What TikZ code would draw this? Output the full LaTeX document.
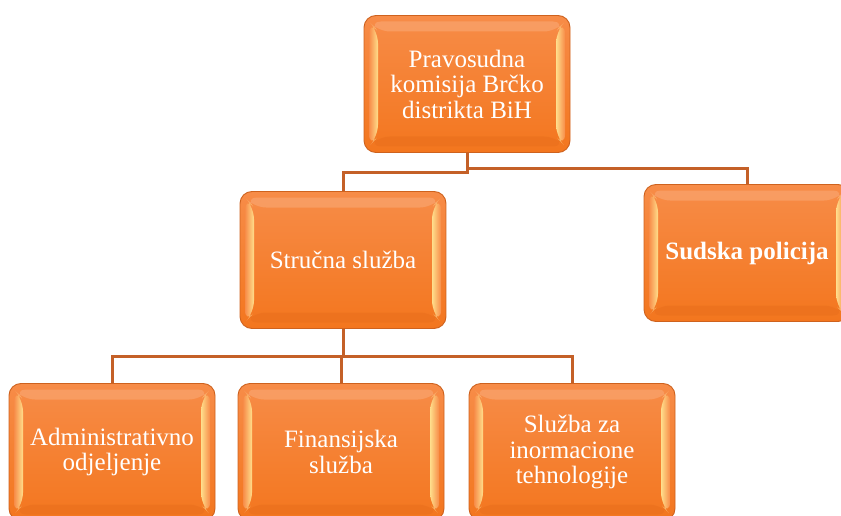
\documentclass[tikz,border=0pt]{standalone}
\usepackage{fontspec}
\setmainfont{Liberation Serif}
\usetikzlibrary{calc}
\definecolor{orgtop}{RGB}{247,140,72}
\definecolor{orgbot}{RGB}{243,118,30}
\definecolor{orgedge}{RGB}{206,98,30}
\definecolor{orglight}{RGB}{255,222,140}
\definecolor{orgdeep}{RGB}{232,110,28}
\definecolor{vezacol}{RGB}{196,96,40}
\tikzset{
  orgbox/.style={draw=orgedge, line width=0.9pt, rounded corners=12pt,
    minimum width=206pt, minimum height=137pt, top color=orgtop, bottom color=orgbot,
    text=white, align=center, font=\fontsize{25}{25.5}\selectfont,
    path picture={
      \coordinate (nw) at (path picture bounding box.north west);
      \coordinate (ne) at (path picture bounding box.north east);
      \coordinate (sw) at (path picture bounding box.south west);
      \coordinate (se) at (path picture bounding box.south east);
      \fill[orgtop!70!white, opacity=.5] ($(nw)+(5,6)$) -- ($(ne)+(-5,6)$) -- ($(ne)+(-14,16)$) -- ($(nw)+(14,16)$) -- cycle;
      \fill[orgdeep, opacity=.5] ($(sw)+(5,-6)$) -- ($(se)+(-5,-6)$) -- ($(se)+(-14,-16)$) -- ($(sw)+(14,-16)$) -- cycle;
      \shade[left color=orgtop, right color=orglight] ($(nw)+(5,6)$) -- ($(nw)+(14,16)$) -- ($(sw)+(14,-16)$) -- ($(sw)+(5,-6)$) -- cycle;
      \shade[left color=orglight, right color=orgtop] ($(ne)+(-5,6)$) -- ($(ne)+(-14,16)$) -- ($(se)+(-14,-16)$) -- ($(se)+(-5,-6)$) -- cycle;
    }},
  veza/.style={draw=vezacol, line width=3pt}
}
\begin{document}
\begin{tikzpicture}[x=1pt,y=-1pt]
      \useasboundingbox (0,0) rectangle (841,516);
      \clip (0,0) rectangle (841,516);
      \begin{scope}
        \node[orgbox] (pk) at (467,84) {Pravosudna\\komisija Br\v{c}ko\\distrikta BiH};
        \node[orgbox] (ss) at (343,260) {Stru\v{c}na slu\v{z}ba};
        \node[orgbox] (sp) at (747,253) {\bfseries Sudska policija};
        \draw[veza] (pk.south) -- ++(0,20) -| (ss.north);
        \draw[veza] (pk.south) -- ++(0,16) -| (sp.north);
      \end{scope}
      \begin{scope}
        \node[orgbox] (ao) at (112,452) {Administrativno\\odjeljenje};
        \node[orgbox] (fs) at (341,452) {Finansijska\\slu\v{z}ba};
        \node[orgbox] (it) at (572,452) {Slu\v{z}ba za\\inormacione\\tehnologije};
        \foreach \n in {ao,fs,it} {
          \draw[veza] (ss.south) -- ++(0,28) -| (\n.north);
        }
      \end{scope}
    \end{tikzpicture}
\end{document}
